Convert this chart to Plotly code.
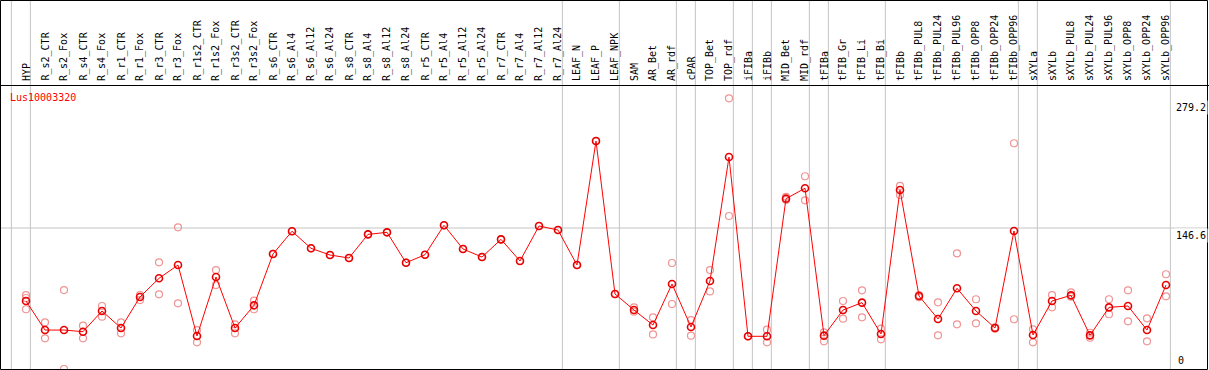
import plotly.graph_objects as go

W, H = 1209, 370

categories = [
    "HYP", "R_s2_CTR", "R_s2_Fox", "R_s4_CTR", "R_s4_Fox", "R_r1_CTR", "R_r1_Fox",
    "R_r3_CTR", "R_r3_Fox", "R_r1s2_CTR", "R_r1s2_Fox", "R_r3s2_CTR", "R_r3s2_Fox",
    "R_s6_CTR", "R_s6_Al4", "R_s6_Al12", "R_s6_Al24", "R_s8_CTR", "R_s8_Al4", "R_s8_Al12",
    "R_s8_Al24", "R_r5_CTR", "R_r5_Al4", "R_r5_Al12", "R_r5_Al24", "R_r7_CTR", "R_r7_Al4",
    "R_r7_Al12", "R_r7_Al24", "LEAF_N", "LEAF_P", "LEAF_NPK", "SAM", "AR_Bet", "AR_rdf",
    "cPAR", "TOP_Bet", "TOP_rdf", "iFIBa", "iFIBb", "MID_Bet", "MID_rdf", "tFIBa",
    "tFIB_Gr", "tFIB_Li", "tFIB_Bi", "tFIBb", "tFIBb_PUL8", "tFIBb_PUL24", "tFIBb_PUL96",
    "tFIBb_OPP8", "tFIBb_OPP24", "tFIBb_OPP96", "sXYLa", "sXYLb", "sXYLb_PUL8",
    "sXYLb_PUL24", "sXYLb_PUL96", "sXYLb_OPP8", "sXYLb_OPP24", "sXYLb_OPP96",
]

means = [
    70.7, 40.5, 40.5, 38.8, 60.3, 42.6, 74.9, 94.3, 108.1, 34.3, 95.7, 42.6, 66.2,
    119.6, 143.2, 125.5, 118.5, 115.4, 140.0, 142.1, 110.5, 118.8, 149.4, 124.8, 116.4,
    134.8, 112.3, 148.7, 144.5, 108.1, 237.0, 78.0, 61.3, 45.7, 88.4, 43.7, 91.5, 220.4,
    34.0, 34.0, 177.1, 187.9, 34.7, 61.3, 69.0, 36.4, 186.1, 75.9, 52.0, 83.9, 60.3,
    42.6, 143.5, 35.4, 70.7, 76.6, 35.0, 64.1, 65.5, 40.5, 87.3,
]

replicates = [
    [76.9, 73.8, 62.1], [48.5, 31.9], [82.1, 0.0], [45.0, 31.9], [65.5, 54.4],
    [48.5, 37.1], [76.9, 71.7], [110.9, 77.6], [147.3, 68.3], [40.5, 27.7],
    [102.9, 87.3], [46.5, 37.1], [71.0, 62.1],
    [119.6], [143.2], [125.5], [118.5], [115.4], [140.0], [142.1], [110.5], [118.8],
    [149.4], [124.8], [116.4], [134.8], [112.3], [148.7], [144.5], [108.1], [237.0],
    [78.0], [64.1, 59.6], [53.7, 36.0], [110.2, 67.6], [50.9, 34.7], [102.9, 80.7],
    [281.4, 159.1], [34.0], [40.9, 27.7], [179.0, 175.7], [200.4, 175.4], [38.1, 28.8],
    [70.7, 52.3], [81.8, 53.7], [41.9, 30.9], [190.3, 180.9], [76.9, 74.5], [69.3, 35.0],
    [120.3, 46.5], [72.5, 47.5], [43.3, 41.9], [234.7, 51.7], [41.3, 27.7], [76.9, 64.1],
    [79.7, 75.2], [37.7, 32.5], [72.5, 56.9], [81.8, 49.6], [52.7, 28.8], [98.5, 75.6],
]

group_sizes = [1, 28, 3, 3, 1, 2, 1, 1, 2, 1, 3, 7, 1, 7]
gene = "Lus10003320"
y_ticks = [0, 146.6, 279.2]
y_tick_labels = ["0", "146.6", "279.2"]

idx = list(range(len(categories)))
rx, ry = [], []
for i, reps in zip(idx, replicates):
    for v in reps:
        rx.append(i)
        ry.append(v)

fig = go.Figure()
fig.add_trace(go.Scatter(
    x=rx, y=ry, mode="markers",
    marker=dict(symbol="circle-open", size=7, color="#F09494", line=dict(width=1.2, color="#F09494")),
    hoverinfo="skip", showlegend=False,
))
fig.add_trace(go.Scatter(
    x=idx, y=means, mode="lines+markers",
    line=dict(color="#FF0000", width=1),
    marker=dict(symbol="circle-open", size=7, color="#E80000", line=dict(width=1.6, color="#E80000")),
    hoverinfo="skip", showlegend=False,
))

# x mapping: 19 px per category, first category at pixel 26
x_left_px, x_right_px = 1, 1207
step = 19.0
xmin = -(26 - x_left_px) / step
xmax = xmin + (x_right_px - x_left_px) / step
y_top_px, y_bot_px = 85, 369
ymax = 146.6 * (y_bot_px - y_top_px) / (y_bot_px - 228)

shapes = []
ends = [-1]
c = -1
for g in group_sizes:
    c += g
    ends.append(c)
for e in ends:
    shapes.append(dict(type="line", xref="x", yref="paper", x0=e + 0.23, x1=e + 0.23,
                       y0=0, y1=1, line=dict(color="#C4C4C4", width=1), layer="below"))
shapes.append(dict(type="line", xref="paper", yref="y", x0=0, x1=1, y0=y_ticks[1], y1=y_ticks[1],
                   line=dict(color="#C4C4C4", width=1), layer="below"))
shapes.append(dict(type="line", xref="paper", yref="paper", x0=0, x1=1,
                   y0=1 - (y_top_px + 0.5) / H, y1=1 - (y_top_px + 0.5) / H,
                   line=dict(color="black", width=1)))
shapes.append(dict(type="rect", xref="paper", yref="paper", x0=0.5 / W, x1=1 - 1.5 / W,
                   y0=0.5 / H, y1=1 - 0.5 / H, line=dict(color="black", width=1)))

annotations = []
mono = "DejaVu Sans Mono"
for i, name in zip(idx, categories):
    annotations.append(dict(x=i, xref="x", y=1 - 83 / H, yref="paper", text=name,
                            textangle=-90, showarrow=False, xanchor="center", yanchor="bottom",
                            font=dict(family=mono, size=10, color="black")))
annotations.append(dict(x=8 / W, xref="paper", y=1 - 97 / H, yref="paper", text=gene,
                        showarrow=False, xanchor="left", yanchor="middle",
                        font=dict(family=mono, size=10, color="#FF0000")))
for v, lab in zip(y_ticks, y_tick_labels):
    if v == 0:
        annotations.append(dict(x=1176 / W, xref="paper", y=v, yref="y", text=lab, showarrow=False,
                                xanchor="left", yanchor="bottom", yshift=1,
                                font=dict(family=mono, size=10, color="black")))
    else:
        annotations.append(dict(x=1174 / W, xref="paper", y=v, yref="y", text=lab, showarrow=False,
                                xanchor="left", yanchor="top", bgcolor="white",
                                font=dict(family=mono, size=10, color="black")))

fig.update_layout(
    width=W, height=H,
    margin=dict(l=0, r=0, t=0, b=0, pad=0),
    paper_bgcolor="white", plot_bgcolor="white",
    showlegend=False, hovermode=False,
    xaxis=dict(domain=[x_left_px / W, x_right_px / W], range=[xmin, xmax], visible=False,
               showgrid=False, zeroline=False, fixedrange=True),
    yaxis=dict(domain=[1 - y_bot_px / H, 1 - y_top_px / H], range=[0, ymax], visible=False,
               showgrid=False, zeroline=False, fixedrange=True),
    shapes=shapes, annotations=annotations,
)

fig.write_html(
    "out.html",
    config={"displayModeBar": False, "staticPlot": True},
    post_script="document.body.style.margin='0';document.body.style.padding='0';document.body.style.overflow='hidden';",
)
